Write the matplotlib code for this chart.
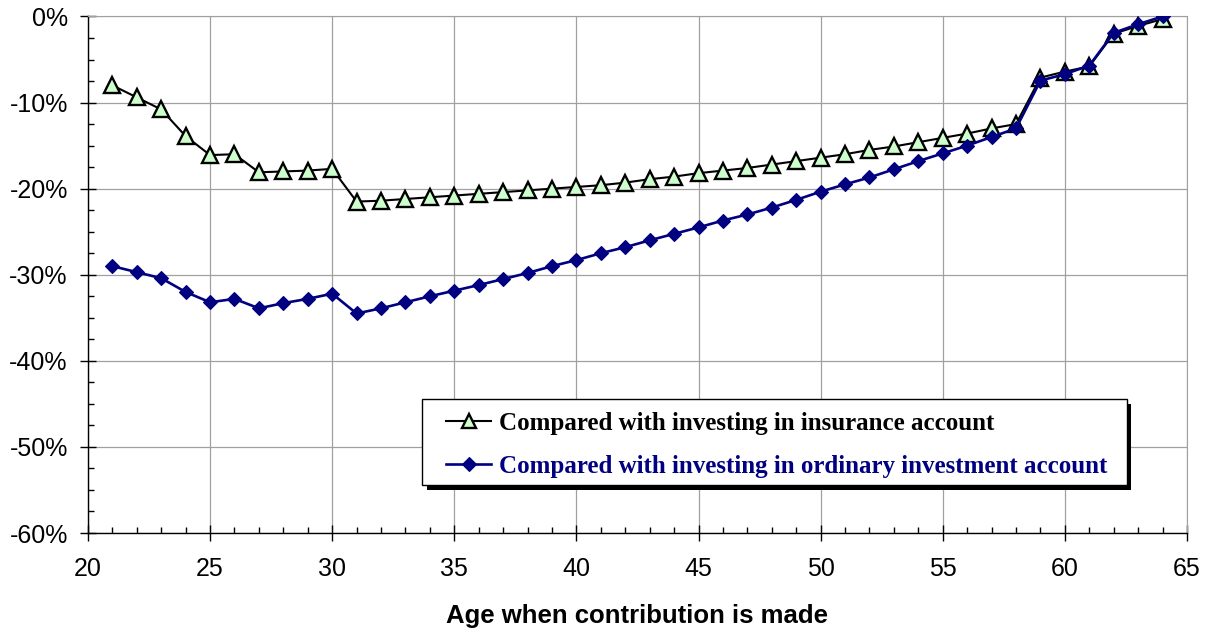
import matplotlib
matplotlib.use("Agg")
import matplotlib.pyplot as plt
from matplotlib.patches import Rectangle
from matplotlib.ticker import MultipleLocator, FuncFormatter

# age when contribution is made
ages = list(range(21, 65))

# relative difference, in percent
insurance = [-8.0, -9.4, -10.8, -13.9, -16.1, -16.0, -18.1, -18.0, -17.9, -17.7,
             -21.5, -21.4, -21.2, -21.0, -20.8, -20.6, -20.4, -20.2, -20.0, -19.8,
             -19.6, -19.3, -18.9, -18.6, -18.2, -17.9, -17.6, -17.2, -16.8, -16.4,
             -16.0, -15.5, -15.1, -14.6, -14.1, -13.6, -13.0, -12.5, -7.1, -6.4,
             -5.8, -2.0, -1.1, -0.3]
ordinary = [-29.0, -29.7, -30.4, -32.0, -33.2, -32.8, -33.9, -33.3, -32.8, -32.2,
            -34.5, -33.9, -33.2, -32.5, -31.85, -31.2, -30.5, -29.8, -29.0, -28.3,
            -27.5, -26.8, -26.0, -25.25, -24.5, -23.7, -23.0, -22.2, -21.3, -20.35,
            -19.5, -18.7, -17.75, -16.8, -15.9, -15.0, -14.0, -13.0, -7.45, -6.7,
            -5.7, -1.9, -0.9, 0.0]

labels = ["Compared with investing in insurance account",
          "Compared with investing in ordinary investment account"]

fig = plt.figure(figsize=(12.08, 6.29), dpi=100)
ax = fig.add_axes([0.0728, 0.1526, 0.9098, 0.8212])

ax.plot(ages, insurance, color="black", lw=1.5, marker="^", markersize=11,
        markerfacecolor="#ccffcc", markeredgecolor="black", markeredgewidth=1.7,
        label=labels[0], zorder=3)
ax.plot(ages, ordinary, color="#000080", lw=1.9, marker="D", markersize=7.4,
        markerfacecolor="#000080", markeredgecolor="#000080", markeredgewidth=0.8,
        label=labels[1], zorder=4)

ax.set_xlim(20, 65)
ax.set_ylim(-60, 0)
ax.xaxis.set_major_locator(MultipleLocator(5))
ax.xaxis.set_minor_locator(MultipleLocator(1))
ax.yaxis.set_major_locator(MultipleLocator(10))
ax.yaxis.set_minor_locator(MultipleLocator(2.5))
ax.yaxis.set_major_formatter(FuncFormatter(lambda v, p: "%d%%" % round(v)))

ax.grid(True, which="major", color="#a0a0a0", lw=0.9, zorder=0)
for s in ["top", "right"]:
    ax.spines[s].set_color("#a0a0a0")
for s in ["left", "bottom"]:
    ax.spines[s].set_color("black")
    ax.spines[s].set_linewidth(1.0)

ax.tick_params(which="major", direction="inout", length=11, width=1.0)
ax.tick_params(which="minor", direction="in", length=4.5, width=1.0)
ax.tick_params(axis="x", which="major", labelsize=18, pad=12)
ax.tick_params(axis="y", which="major", labelsize=18, pad=9)
for t in ax.get_xticklabels() + ax.get_yticklabels():
    t.set_fontfamily(["Liberation Sans", "DejaVu Sans"])

ax.set_xlabel("Age when contribution is made", fontsize=18.5, fontweight="bold",
              family=["Liberation Sans", "DejaVu Sans"], labelpad=16)

# legend box with a black drop shadow
bx, by, bw, bh = 0.304, 0.093, 0.641, 0.1665
ax.add_patch(Rectangle((bx + 0.0045, by - 0.0097), bw, bh, transform=ax.transAxes,
                       facecolor="black", edgecolor="none", zorder=5))
ax.add_patch(Rectangle((bx, by), bw, bh, transform=ax.transAxes,
                       facecolor="white", edgecolor="black", lw=1.0, zorder=6))
leg = ax.legend(loc="upper left", bbox_to_anchor=(0.3258, 0.234), frameon=False,
                borderpad=0, borderaxespad=0, handlelength=1.8, handletextpad=0.32,
                labelspacing=0.8, labelcolor="linecolor", markerscale=0.9,
                prop={"family": ["Liberation Serif", "DejaVu Serif"],
                      "weight": "bold", "size": 18})
leg.set_zorder(7)

fig.savefig("out.png", dpi=100)
